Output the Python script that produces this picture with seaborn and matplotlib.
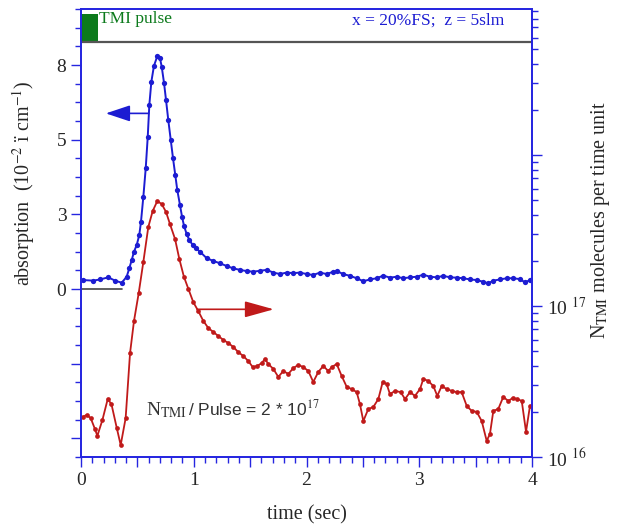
import numpy as np
import pandas as pd
import matplotlib
matplotlib.use('Agg')
import matplotlib.pyplot as plt
from matplotlib.ticker import NullFormatter, LogLocator, FixedLocator, MultipleLocator
import seaborn as sns

# absorption trace (left axis, 10^-2 cm^-1)
t_abs = [0.015, 0.109, 0.169, 0.242, 0.302, 0.361, 0.405, 0.428, 0.45, 0.47,
         0.494, 0.517, 0.532, 0.553, 0.574, 0.592, 0.606, 0.624, 0.647, 0.677,
         0.701, 0.716, 0.736, 0.754, 0.774, 0.796, 0.816, 0.836, 0.854, 0.878,
         0.896, 0.914, 0.937, 0.961, 0.991, 1.02, 1.055, 1.115, 1.173, 1.233,
         1.292, 1.351, 1.41, 1.47, 1.528, 1.588, 1.647, 1.706, 1.765, 1.824,
         1.883, 1.942, 2.002, 2.06, 2.12, 2.179, 2.238, 2.268, 2.326, 2.386,
         2.445, 2.504, 2.563, 2.623, 2.681, 2.74, 2.8, 2.859, 2.918, 2.977,
         3.036, 3.095, 3.155, 3.213, 3.273, 3.332, 3.391, 3.45, 3.51, 3.568,
         3.612, 3.657, 3.716, 3.776, 3.834, 3.894, 3.938, 3.982]
absorption = [0.30, 0.28, 0.32, 0.39, 0.28, 0.21, 0.41, 0.69, 0.97, 1.25,
              1.47, 1.81, 2.25, 3.09, 4.04, 5.10, 6.16, 6.94, 7.47, 7.80,
              7.72, 7.44, 6.91, 6.33, 5.66, 4.99, 4.38, 3.82, 3.31, 2.81,
              2.42, 2.11, 1.84, 1.64, 1.47, 1.36, 1.25, 1.03, 0.94, 0.86,
              0.77, 0.69, 0.64, 0.60, 0.58, 0.61, 0.64, 0.55, 0.50, 0.55,
              0.53, 0.55, 0.50, 0.47, 0.55, 0.50, 0.58, 0.60, 0.50, 0.44,
              0.36, 0.26, 0.32, 0.36, 0.45, 0.38, 0.41, 0.36, 0.39, 0.41,
              0.48, 0.41, 0.39, 0.44, 0.39, 0.38, 0.36, 0.32, 0.30, 0.24,
              0.19, 0.28, 0.32, 0.36, 0.36, 0.33, 0.22, 0.30]

# N_TMI per time unit (right axis, in units of 1e16)
t_ntmi = [0.015, 0.05, 0.086, 0.124, 0.145, 0.19, 0.237, 0.27, 0.317, 0.352,
          0.396, 0.435, 0.47, 0.512, 0.553, 0.597, 0.636, 0.677, 0.716, 0.754,
          0.789, 0.834, 0.872, 0.913, 0.952, 0.996, 1.04, 1.085, 1.129, 1.173,
          1.218, 1.262, 1.306, 1.351, 1.395, 1.44, 1.484, 1.523, 1.564, 1.603,
          1.632, 1.661, 1.706, 1.75, 1.794, 1.839, 1.883, 1.927, 1.972, 2.016,
          2.06, 2.105, 2.149, 2.193, 2.224, 2.268, 2.312, 2.357, 2.401, 2.445,
          2.474, 2.504, 2.548, 2.592, 2.637, 2.676, 2.711, 2.74, 2.785, 2.835,
          2.874, 2.918, 2.962, 3.007, 3.036, 3.08, 3.125, 3.16, 3.199, 3.243,
          3.288, 3.332, 3.376, 3.421, 3.465, 3.51, 3.554, 3.598, 3.627, 3.657,
          3.701, 3.745, 3.79, 3.829, 3.87, 3.909, 3.947, 3.982]
ntmi_1e16 = [1.84, 1.90, 1.81, 1.53, 1.38, 1.76, 2.42, 2.24, 1.56, 1.20,
             1.81, 4.88, 7.96, 12.2, 19.6, 33.4, 42.6, 49.6, 47.3, 42.0,
             34.9, 27.8, 20.5, 15.6, 13.0, 10.6, 9.27, 7.96, 7.15, 6.73,
             6.33, 5.96, 5.69, 5.35, 4.95, 4.66, 4.32, 3.94, 4.01, 4.19,
             4.46, 4.13, 3.83, 3.39, 3.71, 3.55, 3.88, 4.07, 3.94, 3.71,
             3.14, 3.66, 4.01, 3.71, 3.94, 4.13, 3.44, 2.91, 2.82, 2.69,
             2.24, 1.73, 2.08, 2.14, 2.42, 3.14, 3.04, 2.61, 2.74, 2.69,
             2.42, 2.69, 2.54, 2.82, 3.29, 3.19, 2.95, 2.54, 2.95, 2.82,
             2.74, 2.69, 2.69, 2.18, 2.02, 1.99, 1.73, 1.28, 1.42, 2.02,
             2.08, 2.50, 2.35, 2.46, 2.42, 2.35, 1.47, 2.18]

left_ticks = [-5, -2.5, 0, 2.5, 5, 7.5]
left_labels = ['', '', '0', '3', '5', '8']
x_ticks = [0, 0.5, 1, 1.5, 2, 2.5, 3, 3.5, 4]
x_labels = ['0', '', '1', '', '2', '', '3', '', '4']

sns.set_style('ticks')
plt.rcParams['font.family'] = ['Liberation Serif', 'DejaVu Serif']
plt.rcParams['mathtext.fontset'] = 'stix'

blue = '#1c1cd2'
red = '#c01a1a'
green = '#0c7a1c'
axis_blue = '#2626e0'

df_abs = pd.DataFrame({'t': t_abs, 'a': absorption})
df_n = pd.DataFrame({'t': t_ntmi, 'n': np.array(ntmi_1e16) * 1e16})

fig = plt.figure(figsize=(6.21, 5.25), dpi=100)
ax = fig.add_axes([81 / 621, 68 / 525, 451 / 621, 448 / 525])
ax2 = ax.twinx()

sns.lineplot(data=df_abs, x='t', y='a', ax=ax, color=blue, lw=1.4,
             marker='o', markersize=3.8, markeredgewidth=0)
ax2.set_yscale('log')
sns.lineplot(data=df_n, x='t', y='n', ax=ax2, color=red, lw=1.3,
             marker='o', markersize=3.4, markeredgewidth=0)

ax.set_xlim(0, 4)
ax.set_ylim(-5.625, 9.375)
ax2.set_ylim(1e16, 10 ** 18.967)

# pulse marker and reference lines
ax.fill_between([0, 0.15], 8.27, 9.2, color=green, lw=0)
ax.plot([0, 4], [8.27, 8.27], color='#555555', lw=1.6)
ax.plot([0, 0.36], [0, 0], color='#444444', lw=1.2)

ax.annotate('', xy=(0.22, 5.88), xytext=(0.60, 5.88),
            arrowprops=dict(arrowstyle='-|>,head_length=1.5,head_width=0.5',
                            color=blue, lw=1.2, shrinkA=0, shrinkB=0))
ax.annotate('', xy=(1.71, -0.68), xytext=(1.03, -0.68),
            arrowprops=dict(arrowstyle='-|>,head_length=1.8,head_width=0.5',
                            color=red, lw=1.2, shrinkA=0, shrinkB=0))

ax.text(0.16, 9.05, 'TMI pulse', color=green, fontsize=12.5, va='center')
ax.text(2.40, 9.0, 'x = 20%FS;  z = 5slm', color=blue, fontsize=12.5, va='center')
ax.text(0.576, -4.22, r'N$_{\mathrm{TMI}}$', fontsize=14, color='#333333', va='baseline')
ax.text(0.95, -4.22, r'/ Pulse = 2 * 10$^{17}$', fontsize=12.5, color='#333333',
        va='baseline', family='Liberation Sans')

# axes styling
ax.xaxis.set_major_locator(FixedLocator(x_ticks))
ax.set_xticklabels(x_labels)
ax.xaxis.set_minor_locator(MultipleLocator(0.1))
ax.yaxis.set_major_locator(FixedLocator(left_ticks))
ax.set_yticklabels(left_labels)
ax.yaxis.set_minor_locator(MultipleLocator(0.625))
ax.tick_params(which='both', direction='out', color=axis_blue, labelsize=14,
               width=1, right=False, top=False, left=True, bottom=True)
ax.tick_params(which='major', length=7)
ax.tick_params(which='minor', length=4)

ax2.set_yticks([1e16, 1e17, 1e18])
ax2.set_yticklabels(['10 $^{16}$', '10 $^{17}$', ''])
ax2.yaxis.set_minor_locator(LogLocator(base=10, subs=np.arange(2, 10)))
ax2.yaxis.set_minor_formatter(NullFormatter())
ax2.tick_params(which='both', direction='out', color=axis_blue, labelsize=14, width=1)
ax2.tick_params(which='major', length=7)
ax2.tick_params(which='minor', length=4)

for a in (ax, ax2):
    for s in a.spines.values():
        s.set_visible(True)
        s.set_color(axis_blue)
        s.set_linewidth(1.3)

ax.set_xlabel('time (sec)', fontsize=14.5, labelpad=12)
ax.set_ylabel('')
ax2.set_ylabel('')
fig.text(24 / 621, 1 - 183 / 525, r'absorption  (10$^{-2}$ ï cm$^{-1}$)',
         rotation=90, ha='center', va='center', fontsize=14.5)
fig.text(600 / 621, 1 - 220 / 525, r'N$_{\mathrm{TMI}}$ molecules per time unit',
         rotation=90, ha='center', va='center', fontsize=14.5)

fig.savefig('out.png', dpi=100)
